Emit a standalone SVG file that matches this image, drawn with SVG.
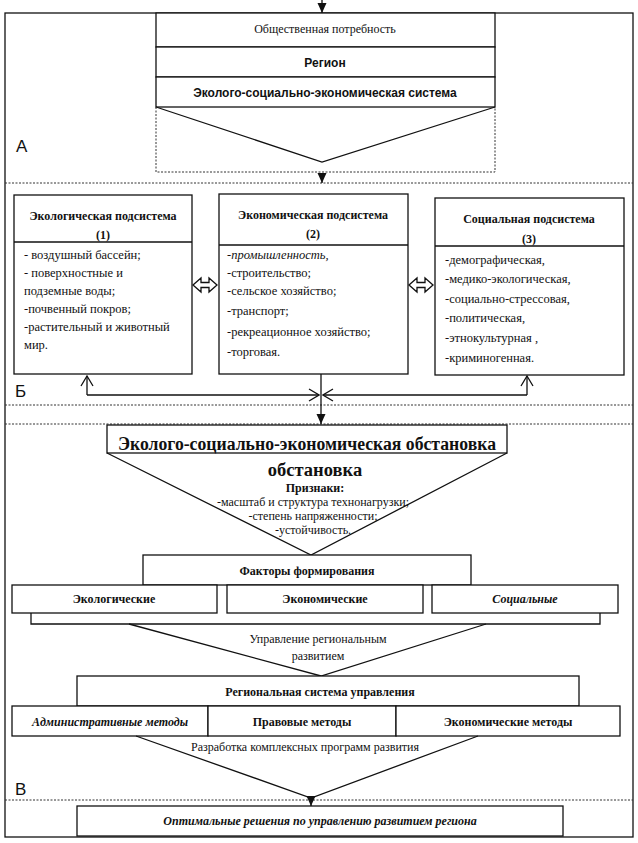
<svg xmlns="http://www.w3.org/2000/svg" width="638" height="843" viewBox="0 0 638 843">
<style>
.box{fill:#fff;stroke:#111;stroke-width:1.3}
.ln{fill:none;stroke:#111;stroke-width:1.3}
.dot{fill:none;stroke:#333;stroke-width:1;stroke-dasharray:2 1.5}
.hol{fill:#fff;stroke:#111;stroke-width:1.3}
.ser{font-family:"Liberation Serif","Times New Roman",serif;fill:#111}
.san{font-family:"Liberation Sans",Arial,sans-serif;fill:#111}
.b{font-weight:bold}
.i{font-style:italic}
.c{text-anchor:middle}
.s12{font-size:12px}
.s13{font-size:12.5px}
.s18{font-size:18.5px}
.lbl{font-family:"Liberation Sans",Arial,sans-serif;font-size:17px;fill:#111}
</style>
<defs>
<marker id="fa" markerUnits="userSpaceOnUse" markerWidth="10" markerHeight="10" refX="10" refY="5" orient="auto"><path d="M0,0.5 L10,5 L0,9.5 z" fill="#111"/></marker>
<marker id="oa" markerUnits="userSpaceOnUse" markerWidth="12" markerHeight="14" refX="11" refY="7" orient="auto"><path d="M1,1 L11,7 L1,13" fill="none" stroke="#111" stroke-width="1.3"/></marker>
</defs>

<g id="frame">
<rect x="5" y="13" width="628" height="824" fill="none" stroke="#111" stroke-width="1.3"/>
<line class="dot" x1="5" y1="183" x2="633" y2="183"/>
<line class="dot" x1="5" y1="405" x2="633" y2="405"/>
<line class="dot" x1="5" y1="424" x2="633" y2="424"/>
<line class="dot" x1="5" y1="800" x2="633" y2="800"/>
<text class="lbl" x="16" y="152">А</text>
<text class="lbl" x="15" y="397">Б</text>
<text class="lbl" x="15" y="795">В</text>
</g>

<g id="nodeA">
<rect class="box" x="156" y="13" width="339" height="34"/>
<text class="ser c s12" x="325" y="33">Общественная потребность</text>
<rect class="box" x="156" y="47" width="339" height="30"/>
<text class="san b c s12" x="325" y="67">Регион</text>
<rect class="box" x="156" y="77" width="339" height="30"/>
<text class="san b c s12" x="325" y="97">Эколого-социально-экономическая система</text>
<polyline class="ln" points="156,107 322,162 495,107"/>
<polyline class="dot" points="156,107 156,172 495,172 495,107"/>
</g>

<g id="node1">
<rect class="box" x="14" y="195" width="178" height="179"/>
<line class="ln" x1="14" y1="242" x2="192" y2="242"/>
<text class="ser b c s12" x="103" y="220">Экологическая подсистема</text>
<text class="ser b c s12" x="103" y="239">(1)</text>
<g class="ser s13">
<text x="24" y="259">- воздушный бассейн;</text>
<text x="24" y="277">- поверхностные и</text>
<text x="24" y="295">подземные воды;</text>
<text x="24" y="313">-почвенный покров;</text>
<text x="24" y="331">-растительный и животный</text>
<text x="24" y="349">мир.</text>
</g>
</g>

<g id="node2">
<rect class="box" x="219" y="194" width="189" height="180"/>
<line class="ln" x1="219" y1="245" x2="408" y2="245"/>
<text class="ser b c s12" x="313" y="219">Экономическая подсистема</text>
<text class="ser b c s12" x="313" y="238">(2)</text>
<g class="ser s13">
<text class="i" x="227" y="259">-промышленность,</text>
<text x="227" y="277">-строительство;</text>
<text x="227" y="295">-сельское хозяйство;</text>
<text x="227" y="315">-транспорт;</text>
<text x="227" y="336">-рекреационное хозяйство;</text>
<text x="227" y="356">-торговая.</text>
</g>
</g>

<g id="node3">
<rect class="box" x="435" y="198" width="189" height="177"/>
<line class="ln" x1="435" y1="246" x2="624" y2="246"/>
<text class="ser b c s12" x="529" y="223">Социальная подсистема</text>
<text class="ser b c s12" x="529" y="243">(3)</text>
<g class="ser s13">
<text x="445" y="264">-демографическая,</text>
<text x="445" y="283">-медико-экологическая,</text>
<text x="445" y="303">-социально-стрессовая,</text>
<text x="445" y="322">-политическая,</text>
<text x="445" y="342">-этнокультурная ,</text>
<text x="445" y="362">-криминогенная.</text>
</g>
</g>

<g id="nodeV1">
<rect class="box" x="107" y="425" width="400" height="28"/>
<text class="ser b c s18" x="307" y="450" textLength="378" lengthAdjust="spacingAndGlyphs">Эколого-социально-экономическая обстановка</text>
<polyline class="ln" points="107,453 311,555 507,453"/>
<text class="ser b c s18" x="315" y="476">обстановка</text>
<text class="ser b c s12" x="315" y="492">Признаки:</text>
<text class="ser c s12" x="313" y="506">-масштаб и структура технонагрузки;</text>
<text class="ser c s12" x="313" y="520">-степень напряженности;</text>
<text class="ser c s12" x="313" y="534">-устойчивость.</text>
</g>

<g id="nodeFactors">
<rect class="box" x="143" y="555" width="328" height="30"/>
<text class="ser b c s12" x="307" y="575">Факторы формирования</text>
<rect class="box" x="12" y="585" width="205" height="28"/>
<text class="ser b c s12" x="114" y="603">Экологические</text>
<rect class="box" x="227" y="585" width="196" height="28"/>
<text class="ser b c s12" x="325" y="603">Экономические</text>
<rect class="box" x="432" y="585" width="186" height="28"/>
<text class="ser b i c s12" x="525" y="603">Социальные</text>
<polyline class="ln" points="31,613 31,624 600,624 600,613"/>
<polyline class="ln" points="129,624 321,676 486,624"/>
<text class="ser c s12" x="318" y="643">Управление региональным</text>
<text class="ser c s12" x="318" y="660">развитием</text>
</g>

<g id="nodeRegSys">
<rect class="box" x="77" y="676" width="502" height="30"/>
<text class="ser b c s12" x="320" y="696">Региональная  система управления</text>
<rect class="box" x="12" y="706" width="196" height="30"/>
<text class="ser b i c s12" x="110" y="726">Административные методы</text>
<rect class="box" x="208" y="706" width="188" height="30"/>
<text class="ser b c s12" x="302" y="726">Правовые методы</text>
<rect class="box" x="396" y="706" width="224" height="30"/>
<text class="ser b c s12" x="508" y="726">Экономические методы</text>
<polyline class="ln" points="136,736 311,798 478,736"/>
<text class="ser c s12" x="305" y="751">Разработка комплексных программ развития</text>
</g>

<g id="nodeFinal">
<rect class="box" x="77" y="806" width="486" height="30"/>
<text class="ser b i c s12" x="320" y="825">Оптимальные решения по управлению развитием региона</text>
</g>

<g id="connectors">
<line class="ln" x1="322" y1="0" x2="322" y2="13" marker-end="url(#fa)"/>
<line class="ln" x1="322" y1="174" x2="322" y2="183" marker-end="url(#fa)"/>
<polygon class="hol" points="193,285 201,278 201,282.5 209,282.5 209,278 217,285 209,292 209,287.5 201,287.5 201,292"/>
<polygon class="hol" points="409,285 417,278 417,282.5 425,282.5 425,278 433,285 425,292 425,287.5 417,287.5 417,292"/>
<polyline class="ln" points="87,395 319,395" marker-end="url(#oa)"/>
<line class="ln" x1="87" y1="395" x2="87" y2="376" marker-end="url(#oa)"/>
<polyline class="ln" points="527,395 323,395" marker-end="url(#oa)"/>
<line class="ln" x1="527" y1="395" x2="527" y2="376" marker-end="url(#oa)"/>
<line class="ln" x1="321" y1="374" x2="321" y2="424" marker-end="url(#fa)"/>
<line class="ln" x1="311" y1="797" x2="311" y2="806" marker-end="url(#fa)"/>
</g>
</svg>
